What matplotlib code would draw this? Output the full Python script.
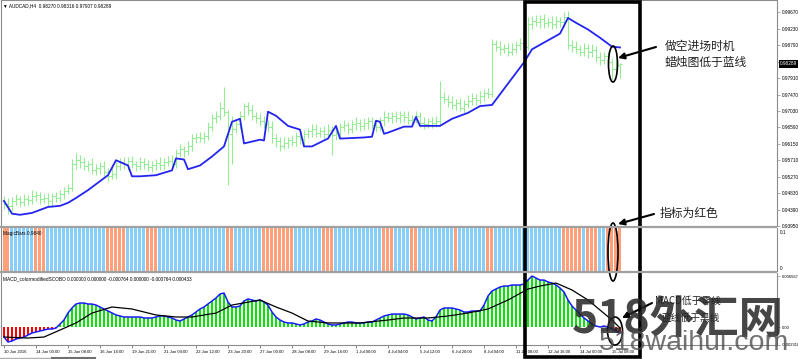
import numpy as np
import matplotlib
matplotlib.use("Agg")
from matplotlib import pyplot as plt
from matplotlib.patches import Ellipse, Rectangle
from matplotlib import transforms

plt.rcParams['font.family'] = ['Liberation Sans', 'DejaVu Sans']

# ---- data (AUDCAD H4) ----
first_open = 0.9462
close = [0.9455, 0.9448, 0.9462, 0.9466, 0.9460, 0.9468, 0.9464, 0.9475, 0.9478, 0.9466,
         0.9470, 0.9462, 0.9474, 0.9470, 0.9480, 0.9490, 0.9498, 0.9560, 0.9572, 0.9565,
         0.9555, 0.9560, 0.9545, 0.9550, 0.9556, 0.9540, 0.9530, 0.9535, 0.9555, 0.9566,
         0.9560, 0.9570, 0.9560, 0.9556, 0.9565, 0.9560, 0.9552, 0.9558, 0.9563, 0.9557,
         0.9566, 0.9570, 0.9562, 0.9590, 0.9600, 0.9595, 0.9610, 0.9630, 0.9632, 0.9630,
         0.9636, 0.9660, 0.9684, 0.9690, 0.9712, 0.9700, 0.9640, 0.9655, 0.9668, 0.9690,
         0.9715, 0.9705, 0.9690, 0.9685, 0.9675, 0.9668, 0.9660, 0.9630, 0.9622, 0.9610,
         0.9618, 0.9625, 0.9620, 0.9635, 0.9628, 0.9640, 0.9648, 0.9655, 0.9645, 0.9650,
         0.9640, 0.9652, 0.9638, 0.9645, 0.9660, 0.9665, 0.9655, 0.9668, 0.9672, 0.9662,
         0.9670, 0.9675, 0.9665, 0.9660, 0.9678, 0.9688, 0.9685, 0.9690, 0.9684, 0.9692,
         0.9688, 0.9680, 0.9682, 0.9690, 0.9672, 0.9668, 0.9676, 0.9670, 0.9675, 0.9740,
         0.9735, 0.9728, 0.9718, 0.9725, 0.9712, 0.9722, 0.9730, 0.9738, 0.9732, 0.9742,
         0.9750, 0.9748, 0.9882, 0.9875, 0.9868, 0.9872, 0.9862, 0.9870, 0.9880, 0.9885,
         0.9875, 0.9935, 0.9945, 0.9940, 0.9950, 0.9938, 0.9942, 0.9935, 0.9945, 0.9940,
         0.9955, 0.9880, 0.9875, 0.9870, 0.9862, 0.9872, 0.9860, 0.9866, 0.9848, 0.9840,
         0.9850, 0.9835, 0.9815, 0.9827, 0.98289]
# wicks beyond the body, in pips (1e-4)
wick_up = [12, 15, 10, 14, 8, 12, 10, 16, 12, 9,
           11, 14, 10, 13, 12, 9, 10, 15, 18, 12,
           14, 10, 16, 12, 9, 13, 11, 14, 10, 12,
           15, 10, 12, 9, 14, 11, 13, 10, 12, 16,
           10, 12, 14, 11, 15, 9, 13, 10, 12, 14,
           11, 13, 10, 12, 15, 55, 5, 35, 14, 12,
           10, 13, 15, 9, 12, 14, 11, 16, 10, 12,
           14, 9, 13, 11, 15, 12, 10, 13, 14, 11,
           12, 15, 10, 13, 11, 14, 9, 12, 16, 10,
           13, 11, 12, 14, 10, 15, 12, 9, 13, 11,
           12, 14, 10, 13, 11, 15, 9, 12, 14, 43,
           15, 12, 14, 10, 13, 11, 16, 12, 10, 14,
           12, 15, 13, 11, 14, 10, 12, 16, 11, 13,
           14, 20, 12, 15, 10, 13, 11, 14, 12, 10,
           13, 15, 12, 14, 10, 13, 11, 15, 12, 14,
           11, 13, 10, 14, 2.7]
wick_dn = [14, 20, 12, 10, 15, 11, 13, 9, 14, 12,
           10, 13, 15, 11, 12, 14, 10, 8, 12, 15,
           11, 14, 10, 13, 15, 12, 14, 10, 13, 11,
           12, 14, 10, 15, 11, 13, 10, 12, 14, 11,
           13, 10, 15, 12, 11, 14, 10, 13, 12, 11,
           14, 12, 10, 13, 11, 10, 136, 80, 12, 14,
           11, 13, 10, 15, 12, 11, 14, 12, 16, 13,
           10, 14, 12, 11, 13, 15, 10, 14, 12, 11,
           13, 10, 54, 12, 14, 11, 13, 10, 15, 12,
           11, 14, 10, 13, 12, 15, 11, 13, 10, 12,
           14, 11, 13, 10, 12, 14, 11, 13, 10, 9,
           12, 14, 11, 13, 10, 15, 12, 11, 14, 10,
           13, 11, 8, 12, 14, 11, 13, 10, 12, 14,
           11, 9, 13, 10, 14, 12, 11, 13, 10, 12,
           11, 10, 14, 12, 13, 11, 15, 12, 13, 14,
           12, 14, 27, 16, 36.3]

# blue moving line on the price chart (bar index, price)
ma_idx = [0, 2, 4, 7, 9, 11, 14, 16, 18, 21, 24, 26, 28, 31, 32, 34, 38, 42, 43, 45,
          46, 49, 52, 55, 57, 59, 60, 62, 64, 65, 66, 68, 71, 74, 75, 77, 80, 81, 83, 84,
          90, 92, 93, 94, 95, 96, 100, 102, 103, 104, 109, 112, 116, 119, 122, 125, 130, 132, 139, 141,
          143, 146, 149, 152, 154]
ma_val = [0.9462, 0.9428, 0.9425, 0.9430, 0.9438, 0.9446, 0.9449, 0.9457, 0.9470, 0.9491,
          0.9515, 0.9531, 0.9571, 0.9557, 0.9528, 0.9528, 0.9531, 0.9544, 0.9576, 0.9573,
          0.9547, 0.9557, 0.9581, 0.9608, 0.9674, 0.9682, 0.9616, 0.9621, 0.9626, 0.9624,
          0.9701, 0.9690, 0.9663, 0.9653, 0.9608, 0.9608, 0.9624, 0.9629, 0.9663, 0.9629,
          0.9632, 0.9634, 0.9677, 0.9674, 0.9642, 0.9645, 0.9661, 0.9661, 0.9687, 0.9663,
          0.9663, 0.9682, 0.9698, 0.9716, 0.9719, 0.9762, 0.9833, 0.9868, 0.9910, 0.9952,
          0.9939, 0.9921, 0.9899, 0.9875, 0.9873]

# MagicBars state runs: s = salmon, b = blue
magic_runs = [('s', 2), ('b', 6), ('s', 3), ('b', 15), ('s', 5), ('b', 5), ('s', 3), ('b', 17),
              ('s', 2), ('b', 7), ('s', 8), ('b', 7), ('s', 3), ('b', 12), ('s', 3), ('b', 4),
              ('s', 2), ('b', 9), ('s', 1), ('b', 7), ('s', 2), ('b', 17), ('s', 5), ('b', 1),
              ('s', 3), ('b', 2), ('s', 4)]

# MACD histogram, units of 1e-4
macd_e4 = [-12.9, -19.3, -18.0, -15.5, -14.2, -12.9, -10.3, -7.7, -6.4, -5.2,
           -3.9, -2.6, -2.6, -1.3, 3.9, 9.0, 18.0, 24.5, 29.6, 30.9,
           30.9, 29.6, 29.6, 28.3, 25.8, 23.2, 20.6, 18.0, 15.5, 14.2,
           12.9, 12.9, 12.9, 12.9, 12.9, 11.6, 11.6, 11.6, 12.9, 14.2,
           14.2, 12.9, 11.6, 9.0, 7.7, 10.3, 12.9, 15.5, 19.3, 23.2,
           25.8, 29.6, 33.5, 37.4, 42.5, 43.8, 32.2, 25.8, 25.8, 27.0,
           33.5, 36.1, 34.8, 33.5, 34.8, 32.2, 28.3, 19.3, 12.9, 9.0,
           6.4, 5.2, 5.2, 3.9, 2.6, 3.9, 6.4, 7.7, 10.3, 9.0,
           6.4, 3.9, 2.6, 2.6, 3.9, 5.2, 6.4, 6.4, 5.2, 5.2,
           5.2, 6.4, 6.4, 9.0, 11.6, 14.2, 15.5, 16.7, 16.7, 16.7,
           16.7, 15.5, 12.9, 10.3, 11.6, 12.9, 9.0, 7.7, 12.9, 21.9,
           24.5, 24.5, 24.5, 23.2, 21.9, 19.3, 19.3, 20.6, 20.6, 20.6,
           28.3, 39.9, 46.4, 48.9, 51.5, 52.8, 52.8, 54.1, 54.1, 54.1,
           55.4, 60.5, 65.7, 63.1, 60.5, 60.5, 58.0, 56.7, 54.1, 50.2,
           45.1, 34.8, 27.0, 21.9, 16.7, 11.6, 7.7, 3.9, 1.3, 0.0,
           1.3, 0.0, -2.6, -5.2, -7.7]
# signal line (black)
sig_idx = [0, 6, 10, 14, 18, 22, 27, 32, 38, 43, 47, 53, 57, 64, 68, 72, 76, 81, 89, 96,
           100, 106, 111, 116, 121, 126, 131, 134, 138, 142, 146, 149, 152, 154]
sig_e4 = [-12.9, -14.2, -12.9, -3.9, 5.2, 18.0, 25.8, 23.2, 15.5, 12.9, 12.9, 18.0, 28.3, 34.8,
          25.8, 18.0, 7.7, 5.2, 5.2, 9.0, 11.6, 11.6, 14.2, 18.0, 23.2, 34.8, 48.9, 52.8,
          56.7, 47.7, 34.8, 21.9, 9.0, -1.3]

price_ticks = [0.99670, 0.99230, 0.98790, 0.98350, 0.97910, 0.97470, 0.97030, 0.96590,
               0.96150, 0.95710, 0.95270, 0.94830, 0.94390, 0.93950]
date_labels = ["10 Jun 2016", "14 Jun 00:00", "15 Jun 08:00", "16 Jun 16:00", "19 Jun 21:00",
               "21 Jun 04:00", "22 Jun 12:00", "23 Jun 20:00", "27 Jun 00:00", "28 Jun 08:00",
               "29 Jun 16:00", "1 Jul 00:00", "4 Jul 04:00", "5 Jul 12:00", "6 Jul 20:00",
               "8 Jul 04:00", "11 Jul 08:00", "12 Jul 16:00", "14 Jul 00:00", "15 Jul 08:00"]
last_price = 0.98289

# ---- layout helpers (pixel boxes) ----
W, H = 798, 359
fig = plt.figure(figsize=(W / 100, H / 100), dpi=100)


def px_axes(x0, y0, x1, y1):
    return fig.add_axes([x0 / W, 1 - y1 / H, (x1 - x0) / W, (y1 - y0) / H])


GREEN = '#90EE90'
BORDER = '#8c8c8c'
XMIN, XMAX = -0.75, 193.25
SMALL = 3.4

n = len(close)
idx = np.arange(n)
close = np.array(close)
opens = np.r_[first_open, close[:-1]]
highs = np.maximum(opens, close) + np.array(wick_up) / 1e4
lows = np.minimum(opens, close) - np.array(wick_dn) / 1e4

# ---- main price panel ----
ax = px_axes(1, 0, 777, 226)
ax.vlines(idx, lows, highs, color=GREEN, lw=0.75)
ax.hlines(opens, idx - 0.4, idx, color=GREEN, lw=0.75)
ax.hlines(close, idx, idx + 0.4, color=GREEN, lw=0.75)
ax.plot(ma_idx, ma_val, color='#2424F0', lw=1.3)
ax.set_xlim(XMIN, XMAX)
ax.set_ylim(0.93950, 1.0)
ax.set_xticks([])
ax.yaxis.tick_right()
ax.set_yticks(price_ticks)
ax.set_yticklabels(['%.5f' % v for v in price_ticks])
ax.tick_params(axis='y', labelsize=SMALL, length=2.5, width=0.5, pad=1, color=BORDER)
for s in ['left', 'right', 'top']:
    ax.spines[s].set_color(BORDER)
    ax.spines[s].set_linewidth(0.8)
ax.spines['bottom'].set_visible(False)
blend = transforms.blended_transform_factory(ax.transAxes, ax.transData)
ax.text(1.004, last_price, '%.5f' % last_price, transform=blend, fontsize=SMALL,
        color='white', va='center', ha='left',
        bbox=dict(fc='black', ec='none', pad=0.8))
ax.text(0.003, 0.985, '\u25bc AUDCAD,H4  0.98270 0.98316 0.97907 0.98289', transform=ax.transAxes,
        fontsize=SMALL, va='top', ha='left')

# ---- MagicBars panel ----
ax2 = px_axes(1, 228, 777, 271)
colors = []
for c, k in magic_runs:
    colors += [('#FFA07A' if c == 's' else '#87CEFA')] * k
ax2.bar(idx, np.ones(n), width=0.75, color=colors, linewidth=0)
ax2.set_xlim(XMIN, XMAX)
ax2.set_ylim(0, 1)
ax2.set_xticks([])
ax2.set_yticks([])
for s in ['left', 'right']:
    ax2.spines[s].set_color(BORDER)
for s in ['top', 'bottom']:
    ax2.spines[s].set_visible(False)
ax2.text(0.003, 0.93, 'MagicBars 0.9840', transform=ax2.transAxes, fontsize=SMALL,
         va='top', ha='left')

# ---- MACD panel ----
ax3 = px_axes(1, 273, 777, 345)
macd = np.array(macd_e4) / 1e4
hist_col = ['#00E600' if v >= 0 else '#FF0000' for v in macd]
ax3.bar(idx, macd, width=0.4, color=hist_col, linewidth=0)
ax3.plot(idx, macd, color='#1a1aff', lw=1.1)
ax3.plot(sig_idx, np.array(sig_e4) / 1e4, color='black', lw=0.9)
ax3.set_xlim(XMIN, XMAX)
ax3.set_ylim(-0.002318, 0.00696)
ax3.yaxis.tick_right()
ax3.set_yticks([0.006567, 0.0, -0.002318])
ax3.set_yticklabels(['0.006567', '0.00', '-0.002318'])
ax3.tick_params(axis='y', labelsize=3.0, length=2.5, width=0.5, pad=1, color=BORDER)
ax3.set_xticks(np.arange(len(date_labels)) * 8)
ax3.set_xticklabels(date_labels, ha='left')
ax3.tick_params(axis='x', labelsize=3.0, length=2.5, width=0.5, pad=1.2, color='#555555')
for s in ['left', 'right', 'bottom']:
    ax3.spines[s].set_color(BORDER)
    ax3.spines[s].set_linewidth(0.8)
ax3.spines['top'].set_visible(False)
ax3.text(0.003, 0.95, 'MACD_colormodifiedSCOBO 0.000000 0.000000 -0.000764 0.000000 -0.000764 0.000433',
         transform=ax3.transAxes, fontsize=SMALL, va='top', ha='left')

# ---- overlay: separators, labels, hand-drawn marks, watermark ----
ov = fig.add_axes([0, 0, 1, 1])
ov.set_xlim(0, W)
ov.set_ylim(H, 0)
ov.axis('off')
ov.patch.set_alpha(0)
for yy in (227, 272):
    ov.plot([0, 777], [yy, yy], color='#a0a0a0', lw=1.6, solid_capstyle='butt')
ov.plot([0, 52], [357.5, 357.5], color='#b0b0b0', lw=1.0)
ov.plot([52, 95], [357.5, 357.5], color='#707070', lw=1.5)
ov.text(780, 232, '0.1', fontsize=SMALL, va='center', ha='left')
ov.text(780, 268, '0', fontsize=SMALL, va='center', ha='left')

ov.add_patch(Rectangle((525, 1.5), 115, 355.5, fill=False, lw=2.6, ec='black'))
ov.add_patch(Ellipse((613, 64), 9, 36, fill=False, lw=1.2, ec='black'))
ov.add_patch(Ellipse((613, 252), 10, 58, fill=False, lw=1.2, ec='black'))
ov.add_patch(Ellipse((615, 331), 15, 28, fill=False, lw=1.2, ec='black'))

arrow = dict(arrowstyle='-|>', color='black', lw=1.5, mutation_scale=9, shrinkA=0, shrinkB=0)
ov.annotate('', xy=(618, 58), xytext=(656, 47), arrowprops=arrow)
ov.annotate('', xy=(618, 224), xytext=(654, 214), arrowprops=arrow)
ov.annotate('', xy=(622, 318), xytext=(652, 303), arrowprops=arrow)

cjk = ['Noto Sans CJK SC', 'DejaVu Sans']
ov.text(665, 46, '做空进场时机', family=cjk, fontsize=8.5, color='#222222', va='center', ha='left')
ov.text(665, 62, '蜡烛图低于蓝线', family=cjk, fontsize=8.5, color='#222222', va='center', ha='left')
ov.text(660, 213, '指标为红色', family=cjk, fontsize=8.5, color='#222222', va='center', ha='left')
ov.text(655, 301, 'MACD低于零线', family=cjk, fontsize=7, color='#222222', va='center', ha='left')
ov.text(662, 318, '蓝线低于黑线', family=cjk, fontsize=7, color='#222222', va='center', ha='left')

ov.text(678, 320, '518外汇网', family=cjk, fontsize=32, fontweight='heavy',
        color='#262626', alpha=0.85, va='center', ha='center')
ov.text(694, 343, '518waihui.com', family=['Liberation Sans', 'DejaVu Sans'], fontsize=20.5,
        color='#505050', alpha=0.8, va='center', ha='center')

fig.savefig('out.png', dpi=100)
